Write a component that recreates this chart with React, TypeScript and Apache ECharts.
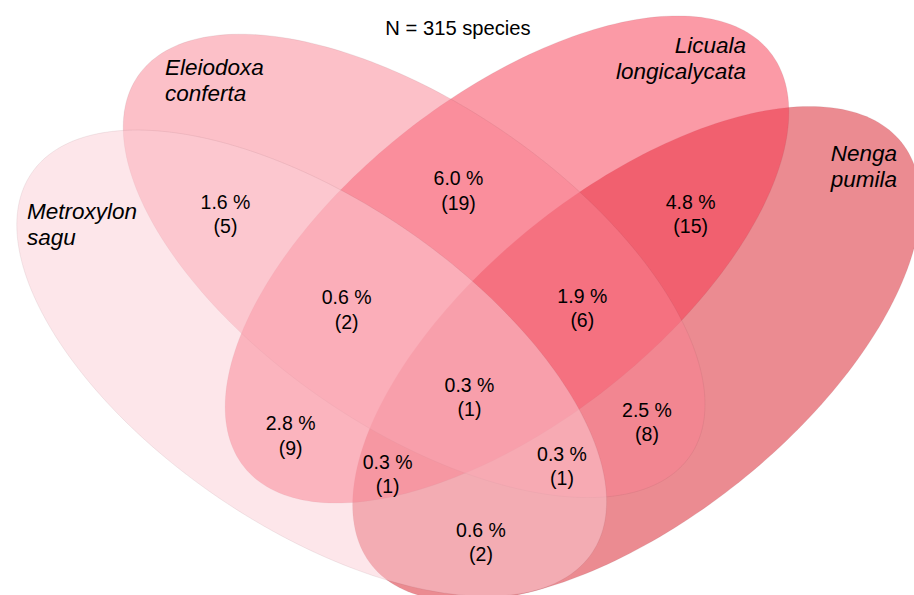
import React, { useEffect, useRef } from 'react';
import * as echarts from 'echarts';

// ---------- data ----------
const totalSpecies = 315;
const setNames = ['Metroxylon sagu', 'Eleiodoxa conferta', 'Licuala longicalycata', 'Nenga pumila'];
const setLabelLines = [['Metroxylon', 'sagu'], ['Eleiodoxa', 'conferta'], ['Licuala', 'longicalycata'], ['Nenga', 'pumila']];
const regionSets = ['M&E', 'E&L', 'L&N', 'M&E&L', 'E&L&N', 'M&E&L&N', 'M&L', 'M&L&N', 'M&E&N', 'E&N', 'M&N'];
const regionCounts = [5, 19, 15, 2, 6, 1, 9, 1, 1, 8, 2];
const regionPercents = ['1.6', '6.0', '4.8', '0.6', '1.9', '0.3', '2.8', '0.3', '0.3', '2.5', '0.6'];

// ---------- layout / style ----------
const W = 914;
const H = 595;
const FONT = '"Liberation Sans", Arial, Helvetica, sans-serif';
const ellipseLayout = [
  { cx: 311.7, cy: 363.2, a: 338.5, b: 163.6, angle: 34.1 },
  { cx: 414.1, cy: 265.9, a: 335.1, b: 161.3, angle: 34.5 },
  { cx: 507.0, cy: 259.5, a: 334.9, b: 163.2, angle: -38.2 },
  { cx: 636.6, cy: 353.8, a: 338.9, b: 164.2, angle: -38.6 },
];
const ellipseFill = [
  'rgba(251,205,213,0.5)',
  'rgba(249,129,145,0.5)',
  'rgba(247,53,77,0.5)',
  'rgba(215,23,35,0.5)',
];
const drawOrder = [3, 2, 1, 0];
// first-line baseline positions of set names
const setLabelLayout = [
  { x: 27, y: 219, align: 'left' },
  { x: 165, y: 75, align: 'left' },
  { x: 746, y: 53.3, align: 'right' },
  { x: 897, y: 161.7, align: 'right' },
];
// centre x and first-line baseline of region labels
const regionLabelLayout = [
  [225.5, 208.3], [458.5, 185], [690.7, 208.3], [346.7, 304], [582.3, 302.5],
  [469.5, 391.7], [290.7, 430], [387.7, 468.3], [562, 460.7], [647, 416.7], [481, 536.7],
];
const NUM_SIZE = 19.5;
const TITLE_SIZE = 20.2;
const NAME_SIZE = 22.5;
const NUM_LINE = 24.5;
const NAME_LINE = 26;

function textEl(x: number, baseline: number, text: string, size: number, align: string, italic: boolean) {
  return {
    type: 'text',
    x,
    y: baseline - 0.3465 * size,
    style: {
      text,
      fill: '#000',
      fontSize: size,
      fontFamily: FONT,
      fontStyle: italic ? 'italic' : 'normal',
      textAlign: align,
      textVerticalAlign: 'middle',
      align,
      verticalAlign: 'middle',
    },
  };
}

export default function App() {
  const ref = useRef<HTMLDivElement>(null);
  useEffect(() => {
    document.body.style.margin = '0';
    if (!ref.current) return;
    const chart = echarts.init(ref.current, undefined, { renderer: 'svg' });
    const option: any = {
      animation: false,
      grid: { left: 0, right: 0, top: 0, bottom: 0 },
      xAxis: { type: 'value', min: 0, max: W, show: false },
      yAxis: { type: 'value', min: 0, max: H, inverse: true, show: false },
      series: [
        {
          type: 'custom',
          name: 'sets',
          coordinateSystem: 'cartesian2d',
          clip: false,
          silent: true,
          data: drawOrder.map((i) => ({ name: setNames[i], value: [ellipseLayout[i].cx, ellipseLayout[i].cy, i] })),
          renderItem: (params: any, api: any) => {
            const i = api.value(2);
            const e = ellipseLayout[i];
            const th = (e.angle * Math.PI) / 180;
            const pts: number[][] = [];
            const n = 240;
            for (let k = 0; k < n; k++) {
              const t = (k / n) * Math.PI * 2;
              const u = e.a * Math.cos(t);
              const v = e.b * Math.sin(t);
              const x = e.cx + u * Math.cos(th) - v * Math.sin(th);
              const y = e.cy + u * Math.sin(th) + v * Math.cos(th);
              pts.push(api.coord([x, y]));
            }
            return {
              type: 'polygon',
              shape: { points: pts },
              style: { fill: ellipseFill[i], stroke: 'rgba(120,60,70,0.12)', lineWidth: 0.8 },
            };
          },
        },
        {
          type: 'custom',
          name: 'regions',
          coordinateSystem: 'cartesian2d',
          clip: false,
          silent: true,
          data: regionSets.map((s, i) => ({ name: s, value: [regionLabelLayout[i][0], regionLabelLayout[i][1], i] })),
          renderItem: (params: any, api: any) => {
            const i = api.value(2);
            const p = api.coord([api.value(0), api.value(1)]);
            return {
              type: 'group',
              children: [
                textEl(p[0], p[1], `${regionPercents[i]} %`, NUM_SIZE, 'center', false),
                textEl(p[0], p[1] + NUM_LINE, `(${regionCounts[i]})`, NUM_SIZE, 'center', false),
              ],
            };
          },
        },
        {
          type: 'custom',
          name: 'setLabels',
          coordinateSystem: 'cartesian2d',
          clip: false,
          silent: true,
          data: setNames.map((s, i) => ({ name: s, value: [setLabelLayout[i].x, setLabelLayout[i].y, i] })),
          renderItem: (params: any, api: any) => {
            const i = api.value(2);
            const p = api.coord([api.value(0), api.value(1)]);
            const al = setLabelLayout[i].align;
            return {
              type: 'group',
              children: setLabelLines[i].map((line, k) => textEl(p[0], p[1] + k * NAME_LINE, line, NAME_SIZE, al, true)),
            };
          },
        },
      ],
      graphic: [
        textEl(458, 35, `N = ${totalSpecies} species`, TITLE_SIZE, 'center', false),
      ],
    };
    chart.setOption(option);
    return () => chart.dispose();
  }, []);
  return <div ref={ref} style={{ width: W, height: H }} />;
}
